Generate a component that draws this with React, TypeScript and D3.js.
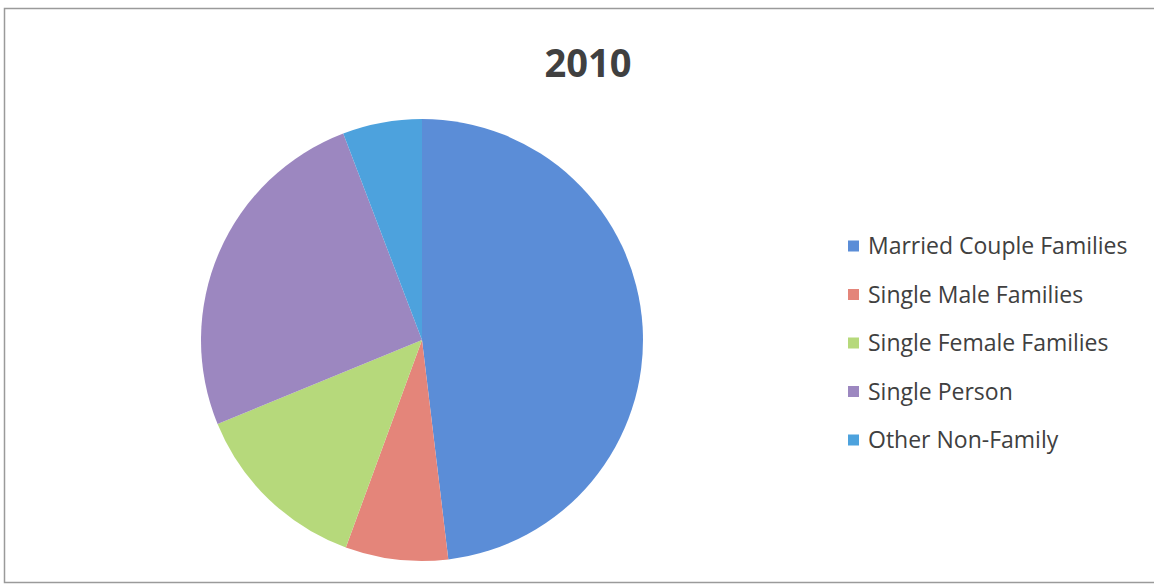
import React from "react";
import * as d3 from "d3";

const categories = [
  "Married Couple Families",
  "Single Male Families",
  "Single Female Families",
  "Single Person",
  "Other Non-Family",
];
const values = [48.1, 7.5, 13.2, 25.4, 5.8];
const colors = ["#5B8DD7", "#E4857A", "#B6D97B", "#9C87C0", "#4DA2DD"];
const title = "2010";

export default function App() {
  const W = 1154;
  const H = 587;
  const cx = 422;
  const cy = 340;
  const r = 221;

  const pie = d3
    .pie<number>()
    .sort(null)
    .value((d) => d);
  const arcs = pie(values);
  const arc = d3.arc<d3.PieArcDatum<number>>().innerRadius(0).outerRadius(r);

  const legendY = d3
    .scalePoint<string>()
    .domain(categories)
    .range([246, 440]);

  return (
    <svg
      width={W}
      height={H}
      style={{ position: "absolute", left: 0, top: 0, background: "#fff" }}
    >
      <rect x={0} y={0} width={W} height={H} fill="#fff" />
      <rect
        x={4.5}
        y={8.5}
        width={W + 10}
        height={574}
        fill="none"
        stroke="#9a9a9a"
        strokeWidth={1.5}
      />
      <text
        x={588}
        y={77}
        textAnchor="middle"
        fontFamily="'Open Sans', sans-serif"
        fontWeight="bold"
        fontSize={40}
        fill="#404040"
        textLength={87}
        lengthAdjust="spacingAndGlyphs"
      >
        {title}
      </text>
      <g transform={`translate(${cx},${cy})`}>
        {arcs.map((a, i) => (
          <path key={i} d={arc(a) || ""} fill={colors[i]} />
        ))}
      </g>
      <g>
        {categories.map((c, i) => {
          const y = legendY(c)!;
          return (
            <g key={c}>
              <rect x={848} y={y - 5.5} width={11} height={11} fill={colors[i]} />
              <text
                x={868}
                y={y}
                dy="0.35em"
                fontFamily="'Open Sans', sans-serif"
                fontSize={23}
                fill="#404040"
              >
                {c}
              </text>
            </g>
          );
        })}
      </g>
    </svg>
  );
}
